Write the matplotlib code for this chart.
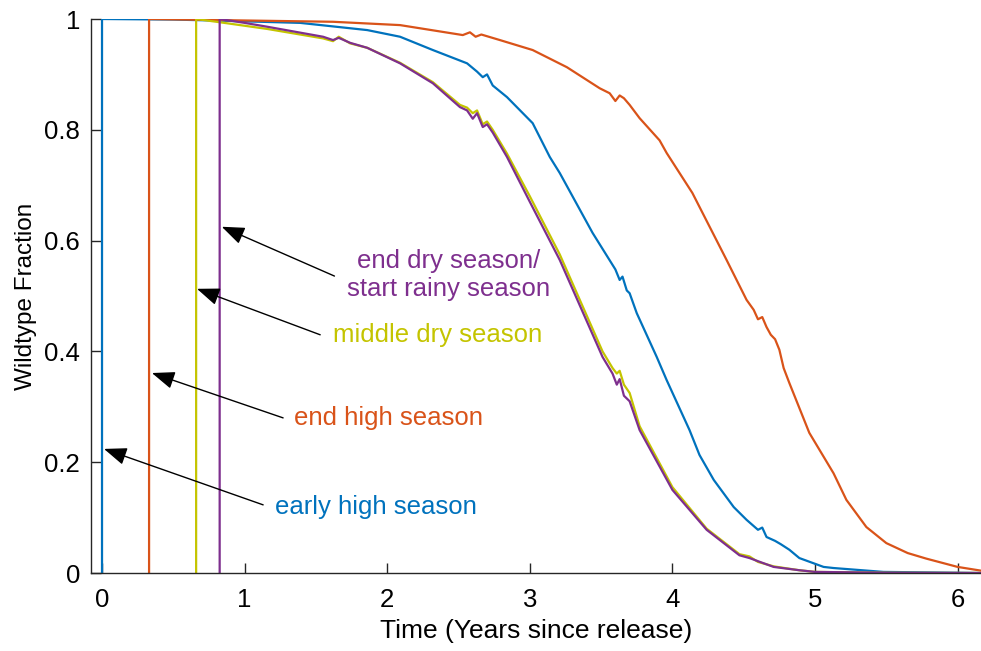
"""Wildtype fraction after release at four points in the season."""
import matplotlib
matplotlib.use("Agg")
import matplotlib.pyplot as plt

plt.rcParams["font.family"] = ["Liberation Sans", "DejaVu Sans"]

# --- data ---
t_early = [0.0, 0.0, 0.5, 0.83, 1.39, 1.86, 2.09, 2.32, 2.56, 2.63, 2.67, 2.70, 2.74,
           2.84, 3.02, 3.14, 3.21, 3.44, 3.60, 3.63, 3.65, 3.68, 3.70, 3.75, 3.89,
           3.96, 4.12, 4.19, 4.29, 4.43, 4.52, 4.60, 4.63, 4.66, 4.72, 4.76, 4.82,
           4.89, 5.06, 5.13, 5.48, 6.17]
v_early = [0.0, 1.0, 0.999, 0.997, 0.993, 0.98, 0.968, 0.944, 0.92, 0.905, 0.895, 0.90,
           0.88, 0.859, 0.812, 0.751, 0.722, 0.614, 0.548, 0.529, 0.535, 0.51, 0.505,
           0.469, 0.39, 0.348, 0.258, 0.213, 0.168, 0.119, 0.096, 0.078, 0.082, 0.065,
           0.058, 0.052, 0.042, 0.027, 0.011, 0.009, 0.002, 0.0]

t_endhigh = [0.33, 0.33, 0.83, 1.62, 2.09, 2.53, 2.58, 2.62, 2.66, 2.79, 3.02, 3.26,
             3.49, 3.56, 3.60, 3.63, 3.66, 3.70, 3.77, 3.91, 3.96, 4.14, 4.38, 4.52,
             4.57, 4.60, 4.63, 4.66, 4.69, 4.72, 4.75, 4.78, 4.82, 4.96, 5.13, 5.22,
             5.36, 5.50, 5.65, 5.78, 6.0, 6.17]
v_endhigh = [0.0, 1.0, 0.998, 0.995, 0.989, 0.971, 0.976, 0.968, 0.972, 0.962, 0.944,
             0.913, 0.875, 0.866, 0.852, 0.862, 0.857, 0.845, 0.821, 0.781, 0.758,
             0.686, 0.565, 0.493, 0.475, 0.458, 0.462, 0.444, 0.43, 0.422, 0.403,
             0.37, 0.343, 0.253, 0.18, 0.132, 0.083, 0.054, 0.036, 0.026, 0.011, 0.004]

t_middry = [0.66, 0.66, 0.83, 1.16, 1.55, 1.62, 1.66, 1.74, 1.86, 2.09, 2.32, 2.51,
            2.56, 2.60, 2.63, 2.67, 2.70, 2.74, 2.84, 3.0, 3.21, 3.51, 3.58, 3.61,
            3.63, 3.66, 3.70, 3.77, 4.0, 4.24, 4.47, 4.54, 4.60, 4.71, 4.89, 5.0,
            5.5, 6.17]
v_middry = [0.0, 1.0, 0.994, 0.982, 0.965, 0.96, 0.968, 0.956, 0.948, 0.921, 0.886,
            0.845, 0.84, 0.83, 0.835, 0.81, 0.815, 0.80, 0.757, 0.68, 0.575, 0.40,
            0.37, 0.36, 0.365, 0.34, 0.325, 0.265, 0.155, 0.08, 0.034, 0.03, 0.02,
            0.012, 0.005, 0.002, 0.0005, 0.0]

t_enddry = [0.825, 0.825, 1.0, 1.16, 1.55, 1.62, 1.66, 1.74, 1.86, 2.09, 2.32, 2.51,
            2.56, 2.60, 2.63, 2.67, 2.70, 2.74, 2.84, 3.0, 3.21, 3.51, 3.58, 3.61,
            3.63, 3.66, 3.70, 3.77, 4.0, 4.24, 4.47, 4.54, 4.71, 4.89, 5.0, 5.5, 6.17]
v_enddry = [0.0, 1.0, 0.993, 0.986, 0.968, 0.962, 0.966, 0.957, 0.948, 0.92, 0.884,
            0.841, 0.835, 0.82, 0.83, 0.805, 0.81, 0.795, 0.751, 0.67, 0.565, 0.39,
            0.36, 0.34, 0.35, 0.32, 0.31, 0.258, 0.15, 0.078, 0.032, 0.027, 0.011,
            0.005, 0.002, 0.0005, 0.0]

labels = ["early high season", "end high season", "middle dry season",
          "end dry season/\nstart rainy season"]
colors = ["#0072bd", "#d95319", "#c4c400", "#7e2f8e"]
# (text position, arrow tail, arrow head) in data units
text_xy = [(1.92, 0.12), (2.01, 0.28), (2.35, 0.43), (2.43, 0.538)]
tail_xy = [(1.13, 0.123), (1.27, 0.28), (1.53, 0.43), (1.63, 0.536)]
head_xy = [(0.014, 0.224), (0.35, 0.361), (0.666, 0.513), (0.84, 0.625)]

series = [(t_early, v_early), (t_endhigh, v_endhigh),
          (t_middry, v_middry), (t_enddry, v_enddry)]

fig = plt.figure(figsize=(9.81, 6.51), dpi=100)
ax = fig.add_axes([0.0928, 0.1198, 0.9072, 0.851])

for (t, v), c in zip(series, colors):
    ax.plot(t, v, color=c, lw=1.6)

for lab, c, txy, tl, hd in zip(labels, colors, text_xy, tail_xy, head_xy):
    ax.annotate("", xy=hd, xytext=tl,
                arrowprops=dict(arrowstyle="-|>,head_length=0.7,head_width=0.27",
                                mutation_scale=20, color="black", lw=1.0,
                                shrinkA=0, shrinkB=0))
    ax.text(txy[0], txy[1], lab, color=c, fontsize=18.5, ha="center", va="center",
            linespacing=1.25)

ax.set_xlim(-0.077, 6.164)
ax.set_ylim(0, 1)
ax.set_xticks([0, 1, 2, 3, 4, 5, 6])
ax.set_yticks([0, 0.2, 0.4, 0.6, 0.8, 1])
ax.set_yticklabels(["0", "0.2", "0.4", "0.6", "0.8", "1"])
for s in ["top", "right"]:
    ax.spines[s].set_visible(False)
for s in ["left", "bottom"]:
    ax.spines[s].set_color("#262626")
    ax.spines[s].set_linewidth(1.0)
ax.tick_params(axis="both", direction="in", length=7, width=1.0, color="#262626",
               labelsize=18.5, labelcolor="#000000")
ax.tick_params(axis="x", pad=11)
ax.tick_params(axis="y", pad=8)
ax.set_xlabel("Time (Years since release)", fontsize=19, labelpad=5)
ax.set_ylabel("Wildtype Fraction", fontsize=17.5, labelpad=5)

fig.savefig("out.png", dpi=100)
plt.close(fig)
